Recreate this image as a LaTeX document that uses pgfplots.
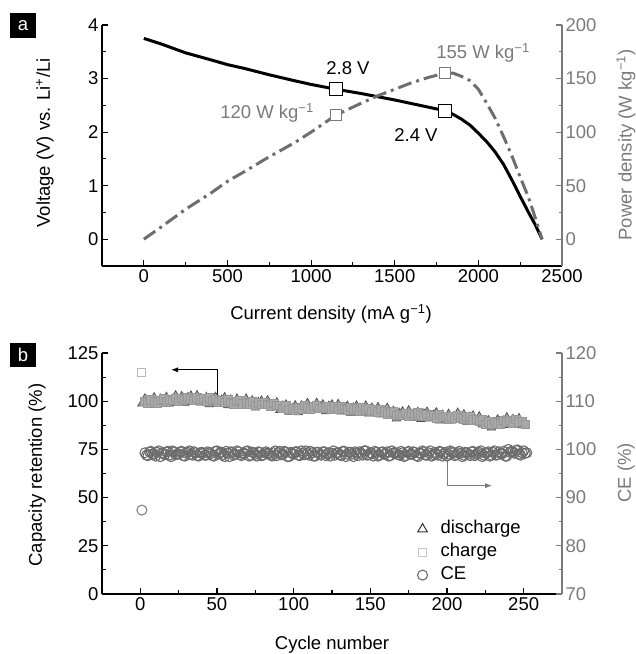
\documentclass[border=0pt]{standalone}
\usepackage{fontspec}
\setmainfont{Liberation Sans}
\usepackage{pgfplots}
\pgfplotsset{compat=1.18}
\usepackage{pgfplotstable}
\usetikzlibrary{arrows.meta}
\definecolor{gr}{HTML}{7A7A7A}
\definecolor{ce}{HTML}{6C6C6C}
\definecolor{pw}{HTML}{6E6E6E}
\definecolor{band}{HTML}{A8A8A8}
\newcommand\lf{\fontsize{18.5bp}{22bp}\selectfont}

\pgfplotstableread{
cyc dis chg ce c2 ce2
3 101.4 99.9 99.3 4 98.8
5 98.2 99.2 98.7 6 99.5
7 100.4 100.6 99.6 8 99.1
9 102.0 99.7 99.0 10 98.6
11 98.0 99.1 99.4 12 99.7
13 101.3 100.5 98.5 14 99.3
15 99.4 101.2 99.2 16 98.9
17 102.2 99.7 99.5 18 99.6
19 98.8 100.6 98.8 20 98.5
21 101.0 100.3 99.7 22 99.4
23 103.0 101.5 98.9 24 99.0
25 99.8 100.0 99.1 26 99.5
27 102.6 101.6 99.6 28 98.7
29 99.1 100.8 98.6 30 99.2
31 102.1 102.1 99.4 32 99.7
33 102.9 101.2 99.0 34 98.8
35 100.2 100.5 99.5 36 99.3
37 103.1 101.7 98.7 38 98.6
39 99.2 100.8 99.3 40 99.4
41 101.1 101.1 99.2 42 98.8
43 102.2 100.0 98.8 44 99.5
45 98.4 101.7 99.3 46 99.1
47 101.2 100.4 98.7 48 98.6
49 102.2 100.9 99.6 50 99.7
51 98.7 99.6 99.0 52 99.3
53 100.7 100.4 99.4 54 98.9
55 102.0 99.4 98.5 56 99.6
57 97.8 100.6 99.2 58 98.5
59 100.9 99.5 99.5 60 99.4
61 98.7 98.6 98.8 62 99.0
63 101.3 99.8 99.7 64 99.5
65 97.6 100.3 98.9 66 98.7
67 99.6 98.6 99.1 68 99.2
69 101.3 99.2 99.6 70 99.7
71 97.8 98.7 98.6 72 98.8
73 100.4 99.6 99.4 74 99.3
75 96.7 97.8 99.0 76 98.6
77 99.6 99.2 99.5 78 99.4
79 100.3 98.2 98.7 80 98.8
81 97.5 99.4 99.3 82 99.5
83 100.4 98.4 99.2 84 99.1
85 96.5 97.6 98.8 86 98.6
87 98.4 98.8 99.3 88 99.7
89 99.4 97.8 98.7 90 99.3
91 95.4 97.8 99.6 92 98.9
93 97.7 96.2 99.0 94 99.6
95 98.3 97.6 99.4 96 98.5
97 94.5 95.9 98.5 98 99.4
99 96.2 96.1 99.2 100 99.0
101 97.8 95.1 99.5 102 99.5
103 94.2 96.5 98.8 104 98.7
105 97.8 96.1 99.7 106 99.2
107 96.2 97.8 98.9 108 99.7
109 99.0 96.9 99.1 110 98.8
111 95.3 96.1 99.6 112 99.3
113 97.4 97.4 98.6 114 98.6
115 99.1 97.9 99.4 116 99.4
117 95.7 96.3 99.0 118 98.8
119 98.3 96.9 99.5 120 99.5
121 94.7 96.5 98.7 122 99.1
123 97.6 97.4 99.3 124 98.6
125 98.3 95.6 99.2 126 99.7
127 95.6 97.1 98.8 128 99.3
129 98.5 96.1 99.3 130 98.9
131 94.6 97.3 98.7 132 99.6
133 96.5 96.3 99.6 134 98.5
135 97.6 95.5 99.0 136 99.4
137 93.9 96.7 99.4 138 99.0
139 96.7 95.8 98.5 140 99.5
141 97.7 96.1 99.2 142 98.7
143 94.3 95.0 99.5 144 99.2
145 96.3 96.8 98.8 146 99.7
147 97.7 95.5 99.7 148 98.8
149 93.5 96.0 98.9 150 99.3
151 96.6 94.8 99.1 152 98.6
153 94.4 95.5 99.6 154 99.4
155 96.9 94.5 98.6 156 98.8
157 93.1 95.6 99.4 158 99.5
159 95.0 94.4 99.0 160 99.1
161 96.5 93.4 99.5 162 98.6
163 92.7 94.3 98.7 164 99.7
165 95.0 94.5 99.3 166 99.3
167 91.0 92.5 99.2 168 98.9
169 93.9 93.1 98.8 170 99.6
171 94.7 92.7 99.3 172 98.5
173 92.1 93.8 98.7 174 99.4
175 95.2 92.2 99.6 176 99.0
177 91.4 93.7 99.0 178 99.5
179 93.3 92.7 99.4 180 98.7
181 94.4 93.9 98.5 182 99.2
183 90.7 92.9 99.2 184 99.7
185 93.5 92.1 99.5 186 98.8
187 94.5 93.3 98.8 188 99.3
189 91.0 92.3 99.7 190 98.6
191 92.9 92.5 98.9 192 99.4
193 94.2 91.3 99.1 194 98.8
195 89.9 93.0 99.6 196 99.5
197 92.9 91.6 98.6 198 99.1
199 90.7 92.0 99.4 200 98.6
201 93.4 90.9 99.0 202 99.7
203 89.9 91.9 99.5 204 99.3
205 92.1 91.2 98.7 206 98.9
207 94.0 92.6 99.3 208 99.6
209 90.6 91.6 99.2 210 98.5
211 93.2 90.8 98.8 212 99.4
213 89.3 91.8 99.3 214 99.0
215 92.0 92.1 98.7 216 99.5
217 92.5 90.2 99.6 218 98.7
219 89.5 90.6 99.0 220 99.2
221 92.1 89.8 99.4 222 99.7
223 87.8 90.3 98.5 224 98.8
225 89.3 88.1 99.2 226 99.3
227 90.1 89.2 99.5 228 98.6
229 86.3 88.1 98.8 230 99.4
231 89.2 89.4 99.7 232 98.8
233 90.5 88.7 98.9 234 99.5
235 87.5 88.3 99.1 236 99.1
237 89.9 89.9 99.6 238 98.6
239 91.6 89.3 98.6 240 100.0
241 87.6 89.8 99.4 242 99.6
243 90.7 88.7 99.5 244 99.2
245 88.6 90.5 99.8 246 99.9
247 91.2 89.2 99.0 248 98.8
249 87.4 89.6 99.3 250 99.7
251 89.0 88.0 99.2 252 99.3
}\cyctab

\pgfplotsset{
  base/.style={
    scale only axis, width=460bp, height=241bp, anchor=south west,
    tick label style={font=\lf},
    /pgf/number format/assume math mode=true,
    /pgf/number format/1000 sep={},
    scaled ticks=false,
    tick align=inside,
    major tick length=6bp, minor tick length=3.5bp,
    axis line style={line width=1.3bp},
    tick style={line width=1.1bp, black},
  }
}

\begin{document}
\begin{tikzpicture}
\useasboundingbox (0bp,0bp) rectangle (636bp,654bp);

% ---------------- Panel a ----------------
\begin{axis}[base, at={(102bp,388bp)},
  xmin=-250, xmax=2500, ymin=-0.5, ymax=4,
  axis x line*=bottom, axis y line*=left,
  xtick={0,500,...,2500}, ytick={0,1,2,3,4},
  minor x tick num=1, minor y tick num=1]
\addplot[black, line width=3bp] coordinates {
(0,3.75) (100,3.65) (250,3.48) (400,3.35) (500,3.26) (600,3.19) (750,3.07)
(900,2.96) (1000,2.89) (1150,2.80) (1300,2.72) (1500,2.60) (1650,2.50)
(1800,2.40) (1850,2.33) (1900,2.24) (1950,2.13) (2000,1.98) (2050,1.82)
(2100,1.63) (2150,1.40) (2200,1.11) (2250,0.80) (2300,0.50) (2340,0.27) (2381,0.0)};
\addplot[only marks, mark=square*, mark size=6.5bp,
  mark options={fill=white, draw=black, line width=1.2bp}]
  coordinates {(1150,2.8) (1800,2.4)};
\end{axis}

\begin{axis}[base, at={(102bp,388bp)},
  xmin=-250, xmax=2500, ymin=-25, ymax=200,
  axis x line=none, axis y line*=right,
  ytick={0,50,...,200}, minor y tick num=1,
  y axis line style={gr}, tick style={gr}, yticklabel style={gr}]
\addplot[pw, line width=3bp, dash pattern=on 14bp off 5bp on 3bp off 5bp] coordinates {
(0,0) (100,11) (250,28) (400,43) (500,54) (600,63) (750,77) (900,90)
(1000,100) (1150,116) (1300,127) (1400,134) (1500,140) (1600,146)
(1700,151) (1800,155) (1850,155) (1900,152) (1950,148) (2000,140)
(2050,127) (2100,113) (2150,96) (2200,78) (2250,58) (2300,39) (2340,20) (2381,0)};
\addplot[only marks, mark=square*, mark size=5.5bp,
  mark options={solid, fill=white, draw=gr, line width=1.2bp}]
  coordinates {(1150,116) (1800,155)};
\end{axis}

% ---------------- Panel b ----------------
\begin{axis}[base, at={(102bp,60bp)},
  xmin=-25, xmax=275, ymin=0, ymax=125,
  axis x line*=bottom, axis y line*=left,
  xtick={0,50,...,250}, ytick={0,25,...,125},
  minor x tick num=1, minor y tick num=1]
\addplot[only marks, mark=triangle*, mark size=4.8bp,
  mark options={fill=band, draw=black!70, line width=0.7bp}]
  table[x=cyc, y=dis]{\cyctab};
\addplot[only marks, mark=triangle*, mark size=4.8bp,
  mark options={fill=band, draw=black!70, line width=0.7bp}]
  coordinates {(1,98.8)};
\addplot[only marks, mark=square*, mark size=4.2bp,
  mark options={fill=band, draw=band!90!black, line width=0.8bp}]
  table[x=cyc, y=chg]{\cyctab};
\addplot[only marks, mark=square*, mark size=4bp,
  mark options={fill=white, draw=gray!55, line width=1bp}]
  coordinates {(1,115)};
\draw[black, line width=1bp, -{Latex[length=7bp,width=5bp]}]
  (axis cs:50,102.5) -- (axis cs:50,116.3) -- (axis cs:20,116.3);
\draw[gr, line width=1bp, -{Latex[length=7bp,width=5bp]}]
  (axis cs:200,69.5) -- (axis cs:200,56.2) -- (axis cs:229.5,56.2);
\end{axis}

\begin{axis}[base, at={(102bp,60bp)},
  xmin=-25, xmax=275, ymin=70, ymax=120,
  axis x line=none, axis y line*=right,
  ytick={70,80,...,120}, minor y tick num=1,
  y axis line style={gr}, tick style={gr}, yticklabel style={gr},
  legend cell align=left,
  legend style={at={(0.686,0.317)}, anchor=north west, draw=none, fill=none,
    inner sep=0pt, outer sep=0pt, row sep=0pt, font=\lf,
    nodes={inner ysep=3bp, inner xsep=13bp, text height=13bp, text depth=4bp}}]
\addlegendimage{only marks, mark=triangle, mark size=5.5bp, mark options={draw=black!80, line width=1bp}}
\addlegendentry{discharge}
\addlegendimage{only marks, mark=square, mark size=4bp, mark options={draw=gray!45, line width=1bp}}
\addlegendentry{charge}
\addplot[only marks, mark=o, mark size=5bp, ce, mark options={line width=1.1bp}]
  table[x=cyc, y=ce]{\cyctab};
\addlegendentry{CE}
\addplot[only marks, mark=o, mark size=5bp, ce, mark options={line width=1.1bp}, forget plot]
  table[x=c2, y=ce2]{\cyctab};
\addplot[only marks, mark=o, mark size=5bp, gr, mark options={line width=1bp}, forget plot]
  coordinates {(1,87.4)};
\end{axis}

% ---------------- Labels ----------------
\fill[black] (10bp,616bp) rectangle (36bp,641bp);
\node[white, font=\lf] at (23bp,628.5bp) {a};
\fill[black] (10bp,287bp) rectangle (36bp,311bp);
\node[white, font=\lf] at (23bp,299bp) {b};

\node[font=\lf, rotate=90] at (45bp,511bp) {Voltage (V) vs. Li\textsuperscript{+}/Li};
\node[font=\lf, rotate=90, gr] at (626bp,509bp) {Power density (W kg\textsuperscript{−1})};
\node[font=\lf] at (331bp,340bp) {Current density (mA g\textsuperscript{−1})};

\node[font=\lf] at (348bp,586bp) {2.8 V};
\node[font=\lf] at (416bp,519bp) {2.4 V};
\node[font=\lf, gr] at (267bp,541bp) {120 W kg\textsuperscript{−1}};
\node[font=\lf, gr] at (483bp,601bp) {155 W kg\textsuperscript{−1}};

\node[font=\lf, rotate=90] at (37bp,179bp) {Capacity retention (\%)};
\node[font=\lf, rotate=90, gr] at (626bp,181bp) {CE (\%)};
\node[font=\lf, anchor=base] at (332bp,5bp) {Cycle number};
\end{tikzpicture}
\end{document}
